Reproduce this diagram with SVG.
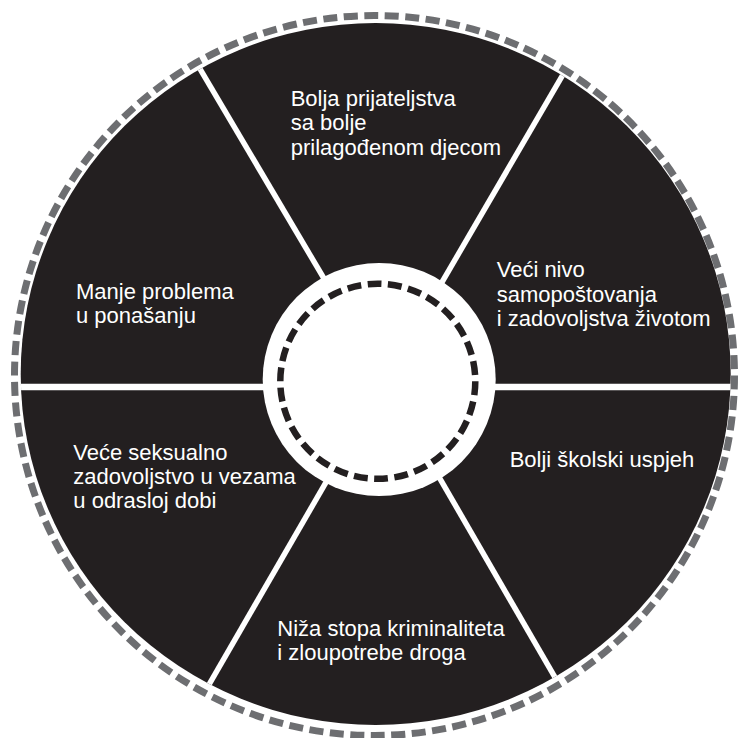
<svg xmlns="http://www.w3.org/2000/svg" width="738" height="738" viewBox="0 0 738 738">
  <style>
    .lbl { font-family: "Liberation Sans", Arial, sans-serif; font-size: 22px; fill: #ffffff; }
    .div { stroke: #ffffff; stroke-width: 5.5; fill: none; }
    .hdiv { stroke: #ffffff; stroke-width: 6.5; fill: none; }
  </style>
  <defs>
    <clipPath id="diskClip">
      <ellipse cx="375.7" cy="374" rx="355" ry="351"/>
    </clipPath>
  </defs>
  <rect x="0" y="0" width="738" height="738" fill="#ffffff"/>
  <circle id="outer-ring" cx="374.5" cy="375.5" r="360" fill="none" stroke="#6d6e71" stroke-width="7" pathLength="2255" stroke-dasharray="14 6.5"/>
  <ellipse id="disk" cx="375.7" cy="374" rx="355" ry="351" fill="#231f20"/>
  <g id="connectors" clip-path="url(#diskClip)">
    <line class="div" x1="189.5" y1="51.2" x2="384" y2="380"/>
    <line class="div" x1="571.4" y1="60.1" x2="385" y2="380"/>
    <line class="div" x1="197.9" y1="703.8" x2="384" y2="382"/>
    <line class="div" x1="565.3" y1="695.2" x2="384" y2="382"/>
    <line class="hdiv" x1="10" y1="387" x2="310" y2="387"/>
    <line class="hdiv" x1="450" y1="387" x2="740" y2="387"/>
  </g>
  <g id="center">
    <circle cx="379.2" cy="379.5" r="116.5" fill="#ffffff"/>
    <circle cx="377.8" cy="381.3" r="97.5" fill="none" stroke="#231f20" stroke-width="6.5" pathLength="615" stroke-dasharray="14 6.5"/>
  </g>
  <g id="node-prijateljstva">
    <text class="lbl" x="290.7" y="106">Bolja prijateljstva</text>
    <text class="lbl" x="290.7" y="130">sa bolje</text>
    <text class="lbl" x="290.7" y="154.5">prilagođenom djecom</text>
  </g>
  <g id="node-samopostovanje">
    <text class="lbl" x="496.7" y="277.3">Veći nivo</text>
    <text class="lbl" x="496.7" y="301.7">samopoštovanja</text>
    <text class="lbl" x="496.7" y="326">i zadovoljstva životom</text>
  </g>
  <g id="node-ponasanje">
    <text class="lbl" x="76" y="299.3">Manje problema</text>
    <text class="lbl" x="76" y="323.3">u ponašanju</text>
  </g>
  <g id="node-seksualno">
    <text class="lbl" x="73.3" y="459.7">Veće seksualno</text>
    <text class="lbl" x="73.3" y="484">zadovoljstvo u vezama</text>
    <text class="lbl" x="73.3" y="508.3">u odrasloj dobi</text>
  </g>
  <g id="node-skolski">
    <text class="lbl" x="509.7" y="467.3">Bolji školski uspjeh</text>
  </g>
  <g id="node-kriminalitet">
    <text class="lbl" x="277.3" y="635.7">Niža stopa kriminaliteta</text>
    <text class="lbl" x="277.3" y="660">i zloupotrebe droga</text>
  </g>
</svg>
